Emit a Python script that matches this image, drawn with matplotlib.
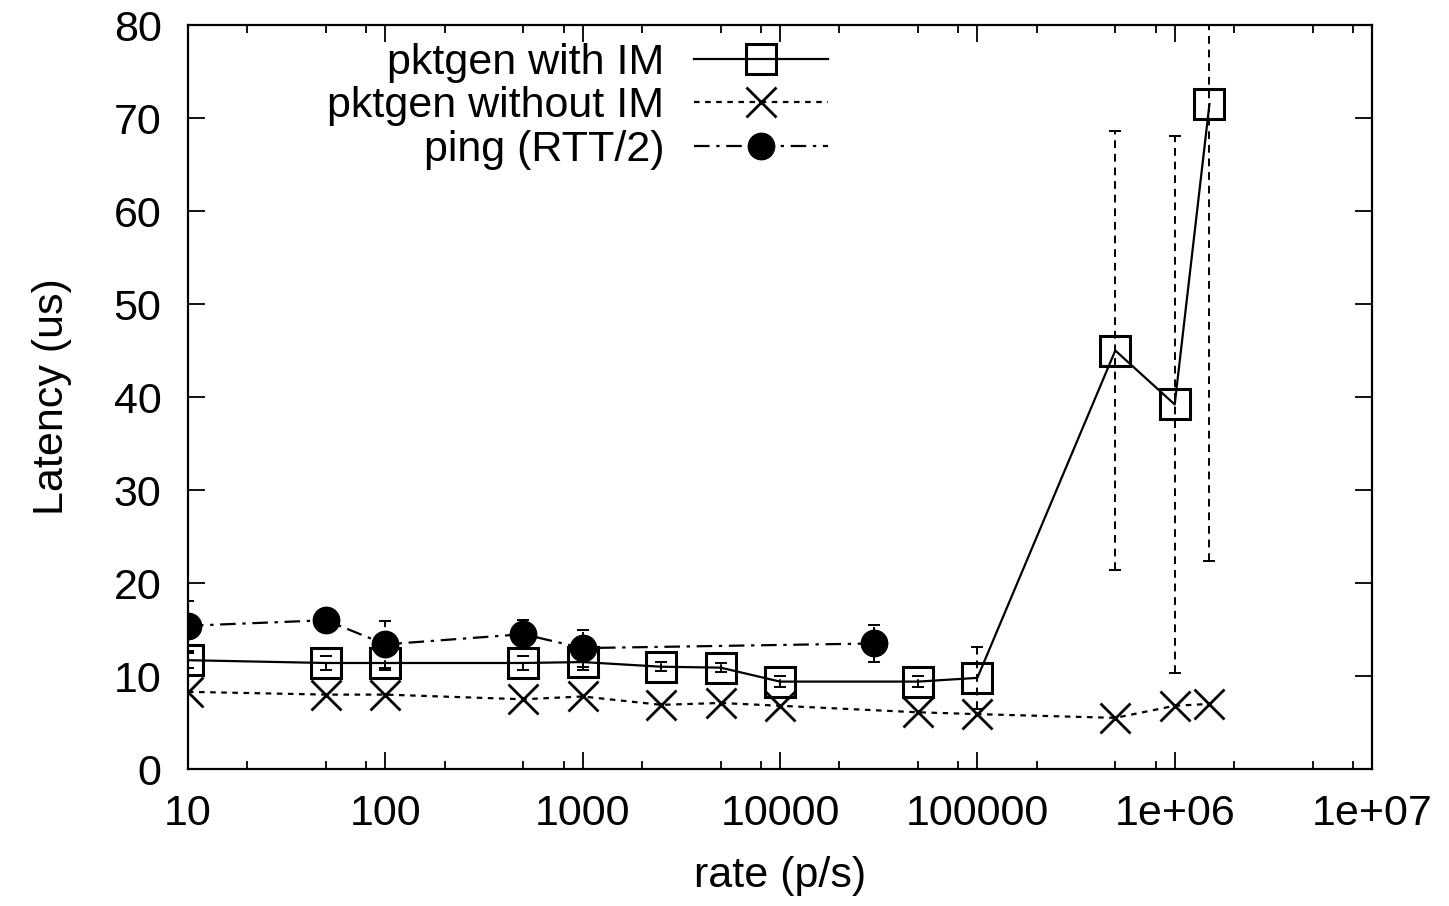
import matplotlib
matplotlib.use("Agg")
import matplotlib.pyplot as plt
from matplotlib.ticker import LogLocator, FixedLocator, NullFormatter, FixedFormatter

plt.rcParams['font.family'] = ['Liberation Sans', 'DejaVu Sans']

# pktgen with IM
rate_im = [10, 50, 100, 500, 1000, 2500, 5000, 10000, 50000, 100000, 500000, 1000000, 1500000]
lat_im = [11.7, 11.4, 11.4, 11.4, 11.5, 11.0, 10.9, 9.4, 9.4, 9.8, 45.0, 39.2, 71.5]
err_im = [0.8, 0.7, 0.7, 0.7, 0.8, 0.5, 0.5, 0.6, 0.6, 3.3, 23.6, 28.9, 49.1]

# pktgen without IM
rate_noim = [10, 50, 100, 500, 1000, 2500, 5000, 10000, 50000, 100000, 500000, 1000000, 1500000]
lat_noim = [8.3, 8.0, 8.0, 7.5, 7.8, 6.9, 7.1, 6.8, 6.1, 5.9, 5.5, 6.8, 7.0]

# ping (RTT/2)
rate_ping = [10, 50, 100, 500, 1000, 30000]
lat_ping = [15.4, 16.0, 13.4, 14.5, 13.0, 13.5]
err_ping = [2.7, 1.0, 2.5, 1.5, 2.0, 2.0]

xtick_vals = [10, 100, 1000, 10000, 100000, 1e6, 1e7]
xtick_labels = ['10', '100', '1000', '10000', '100000', '1e+06', '1e+07']

fig = plt.figure(figsize=(14.49, 9.06), dpi=100)
ax = fig.add_axes([0.1297, 0.1512, 0.8172, 0.8212])

fs = 31
lw = 1.6
# error bars (dashed)
for x, y, e in [(rate_im, lat_im, err_im), (rate_ping, lat_ping, err_ping)]:
    eb = ax.errorbar(x, y, yerr=e, fmt='none', ecolor='black', elinewidth=1.4,
                     capsize=4, capthick=1.4)
    eb[2][0].set_linestyle((0, (4, 3)))

ax.plot(rate_im, lat_im, color='black', lw=lw, marker='s', ms=21,
        mfc='none', mec='black', mew=2.2, label='pktgen with IM')
ax.plot(rate_noim, lat_noim, color='black', lw=lw, ls=(0, (2.5, 2.5)), marker='x',
        ms=21, mew=2.0, label='pktgen without IM')
ax.plot(rate_ping, lat_ping, color='black', lw=lw, ls=(0, (7, 3, 1.5, 3)), marker='o',
        ms=19, mfc='black', mec='black', label='ping (RTT/2)')

ax.set_xscale('log')
ax.set_xlim(10, 1e7)
ax.set_ylim(0, 80)
ax.xaxis.set_major_locator(FixedLocator(xtick_vals))
ax.xaxis.set_major_formatter(FixedFormatter(xtick_labels))
ax.xaxis.set_minor_locator(LogLocator(base=10, subs=(2, 5, 8)))
ax.xaxis.set_minor_formatter(NullFormatter())
ax.set_yticks(range(0, 81, 10))

ax.tick_params(which='both', direction='in', top=True, right=True, labelsize=fs, width=1.3)
ax.tick_params(axis='x', which='major', length=12, pad=18)
ax.tick_params(axis='y', which='major', length=12, pad=19)
ax.tick_params(which='minor', length=6)
for s in ax.spines.values():
    s.set_linewidth(1.6)

ax.set_xlabel('rate (p/s)', fontsize=fs, labelpad=16)
ax.set_ylabel('Latency (us)', fontsize=fs, labelpad=30)

ax.legend(loc='upper left', bbox_to_anchor=(0.085, 1.028), frameon=False, fontsize=fs,
          markerfirst=False, handlelength=3.1, numpoints=1, labelspacing=0.08,
          handletextpad=0.7, markerscale=1.0)

fig.savefig('out.png', dpi=100)
